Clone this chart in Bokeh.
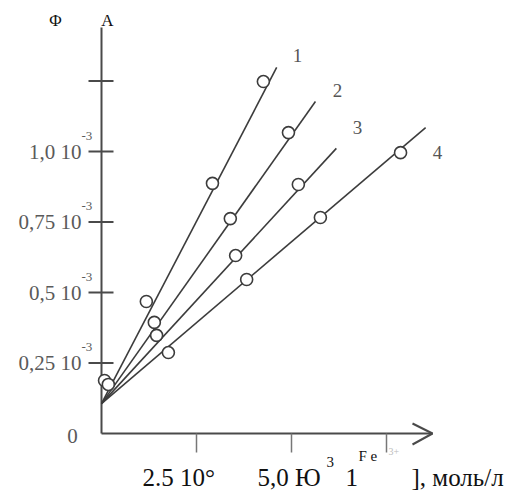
from bokeh.plotting import figure
from bokeh.models import Range1d
from bokeh.core.properties import value
from bokeh.embed import file_html
from bokeh.resources import INLINE

# ---- data (x: concentration units, y: absorbance, units of 10^-3) ----
x_line1 = [0.08, 1.18, 2.92, 4.26]
y_line1 = [0.188, 0.468, 0.887, 1.248]
x_line2 = [0.18, 1.39, 3.39, 4.92]
y_line2 = [0.174, 0.394, 0.762, 1.067]
x_line3 = [1.45, 3.53, 5.18]
y_line3 = [0.348, 0.631, 0.883]
x_line4 = [1.76, 3.82, 5.76, 7.87]
y_line4 = [0.287, 0.546, 0.766, 0.996]

line_start_x = 0.0
line_start_y = 0.106
line_end_x = [4.61, 5.63, 6.18, 8.53]
line_end_y = [1.298, 1.177, 1.011, 1.085]
series_names = ["1", "2", "3", "4"]
name_x = [5.16, 6.21, 6.74, 8.84]
name_y = [1.34, 1.216, 1.085, 0.996]

y_ticks = [0.25, 0.5, 0.75, 1.0, 1.25]
y_tick_labels = ["0,25 10", "0,5 10", "0,75 10", "1,0 10", ""]
x_ticks = [2.5, 5.0, 7.5]

# ---- page-pixel mapping (for annotation placement only) ----
X0, SX, Y0, SY = 101.0, 38.0, 433.0, 282.0
W, H = 520, 490
OFF = 0


def P(px, py):
    return (px - X0) / SX, (Y0 - py) / SY


xr = Range1d((OFF - X0) / SX, (OFF + W - X0) / SX)
yr = Range1d((Y0 - (OFF + H)) / SY, (Y0 - OFF) / SY)

p = figure(width=W, height=H, x_range=xr, y_range=yr, output_backend="svg",
           toolbar_location=None, x_axis_type=None, y_axis_type=None,
           min_border=0, outline_line_color=None, background_fill_color="white",
           border_fill_color="white")
p.grid.visible = False

SERIF = value("Liberation Serif")
AX = "#4a4a4a"
LN = "#3c3c3c"

# axes
ax_top = P(101, 27)[1]
p.segment(x0=[0], y0=[0], x1=[0], y1=[ax_top], line_color=AX, line_width=2)
x_end = P(432, 433)[0]
p.segment(x0=[0], y0=[0], x1=[x_end], y1=[0], line_color=AX, line_width=2)
a1 = P(412, 423)
a2 = P(412, 444)
p.line(x=[a1[0], x_end, a2[0]], y=[a1[1], 0, a2[1]], line_color=AX, line_width=2)

# y ticks
tl, tr = P(88, 0)[0], P(113, 0)[0]
p.segment(x0=[tl] * len(y_ticks), y0=y_ticks, x1=[tr] * len(y_ticks), y1=y_ticks,
          line_color=AX, line_width=2)
# x ticks
tb = P(0, 452)[1]
p.segment(x0=x_ticks, y0=[0] * len(x_ticks), x1=x_ticks, y1=[tb] * len(x_ticks),
          line_color="#777777", line_width=1.5)

# y tick labels
lab_x = P(81, 0)[0]
p.text(x=[lab_x] * len(y_ticks), y=y_ticks, text=y_tick_labels, text_align="right",
       text_baseline="middle", text_font=SERIF, text_font_size="21px",
       text_color="#5a5a5a")
sup_x = P(81, 0)[0]
sup_y = [v + 16 / SY for v in y_ticks[:4]]
p.text(x=[sup_x] * 4, y=sup_y, text=["-3"] * 4, text_align="left",
       text_baseline="middle", text_font=SERIF, text_font_size="13px",
       text_color="#5a5a5a")
zx, zy = P(72, 435)
p.text(x=[zx], y=[zy], text=["0"], text_align="center", text_baseline="middle",
       text_font=SERIF, text_font_size="21px", text_color="#5a5a5a")

# top labels
fx, fy = P(55, 20)
ax_, ay_ = P(107, 20)
p.text(x=[fx, ax_], y=[fy, ay_], text=["Φ", "A"], text_align="center",
       text_baseline="middle", text_font=SERIF, text_font_size="17px",
       text_color="#111111")

# x labels
bx = [P(142, 0)[0], P(257, 0)[0], P(345, 0)[0], P(411, 0)[0]]
by = P(0, 477)[1]
p.text(x=bx, y=[by] * 4, text=["2.5 10°", "5,0 Ю", "1", "], моль/л"],
       text_align="left", text_baseline="alphabetic", text_font=SERIF,
       text_font_size="25px", text_color="#111111")
s1 = P(326, 461)
s2 = P(358, 455)
p.text(x=[s1[0], s2[0]], y=[s1[1], s2[1]], text=["3", "F e"], text_align="left",
       text_baseline="middle", text_font=SERIF, text_font_size="15px",
       text_color="#111111")
f3 = P(388, 451)
p.text(x=[f3[0]], y=[f3[1]], text=["3+"], text_align="left", text_baseline="middle",
       text_font=SERIF, text_font_size="10px", text_color="#bbbbbb")

# fitted lines
p.segment(x0=[line_start_x] * 4, y0=[line_start_y] * 4, x1=line_end_x, y1=line_end_y,
          line_color=LN, line_width=1.6)

# data points
for xs, ys in [(x_line1, y_line1), (x_line2, y_line2), (x_line3, y_line3), (x_line4, y_line4)]:
    p.scatter(x=xs, y=ys, marker="circle", size=12, fill_color="white",
              line_color=LN, line_width=1.6)

# series names
p.text(x=name_x, y=name_y, text=series_names, text_align="center",
       text_baseline="middle", text_font=SERIF, text_font_size="19px",
       text_color="#555555")

open("out.html", "w").write(file_html(p, INLINE))
